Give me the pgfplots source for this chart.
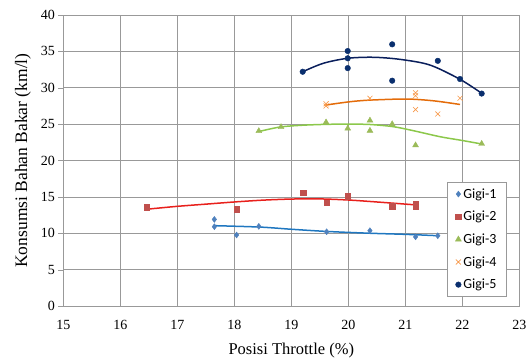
\documentclass[border=0pt]{standalone}
\usepackage{pgfplots}
\pgfplotsset{compat=1.18}
\usepackage{fontspec}
\setmainfont{Liberation Serif}
\newfontfamily\legfont{Carlito}
\definecolor{c1m}{HTML}{4F81BD}\definecolor{c1l}{HTML}{1F77C0}
\definecolor{c2m}{HTML}{C0504D}\definecolor{c2l}{HTML}{E8201C}
\definecolor{c3m}{HTML}{9BBB59}\definecolor{c3l}{HTML}{8CC84B}
\definecolor{c4m}{HTML}{F79646}\definecolor{c4l}{HTML}{E46C0A}
\definecolor{c5m}{HTML}{0A2F6E}\definecolor{c5l}{HTML}{0A1F5C}
\begin{document}
\begin{tikzpicture}
\useasboundingbox (-63.3pt,-53pt) rectangle (468.7pt,306pt);
\begin{axis}[
  scale only axis, width=456pt, height=291pt,
  xmin=15, xmax=23, ymin=0, ymax=40,
  xtick={15,...,23}, ytick={0,5,...,40},
  grid=major, major grid style={gray!80, line width=0.6pt},
  axis line style={gray!80}, tick style={gray!80},
  tick pos=left, tick align=outside, major tick length=5pt,
  xtick style={draw=none},
  tick label style={font=\fontsize{14}{15}\selectfont},
  xticklabel style={yshift=-6pt},
  /pgf/number format/assume math mode=true,
  xlabel={Posisi Throttle (\%)}, ylabel={Konsumsi Bahan Bakar (km/l)},
  xlabel style={font=\fontsize{16.5}{18}\selectfont, yshift=-6pt},
  ylabel style={font=\fontsize{17.5}{19}\selectfont, yshift=3pt},
  legend style={at={(0.842,0.425)}, anchor=north west, draw=gray!80, fill=white,
    font=\legfont\fontsize{14}{15}\selectfont, row sep=7.5pt,
    inner xsep=8pt, inner ysep=4pt},
  legend cell align=left,
]
% trend lines
\addplot[c1l, line width=1.5pt, smooth, forget plot] coordinates {
(17.66,11.04)(18.45,10.85)(19.0,10.55)(19.62,10.25)(20.38,10.0)(21.0,9.85)(21.55,9.67)};
\addplot[c2l, line width=1.5pt, smooth, forget plot] coordinates {
(16.46,13.3)(17.0,13.7)(17.5,14.0)(18.0,14.3)(18.5,14.55)(19.0,14.7)(19.5,14.72)(20.0,14.57)(20.5,14.3)(21.18,13.9)};
\addplot[c3l, line width=1.5pt, smooth, forget plot] coordinates {
(18.42,23.96)(18.8,24.6)(19.2,24.85)(19.62,24.97)(20.0,25.0)(20.38,24.95)(20.79,24.65)(21.14,24.1)(21.61,23.27)(22.0,22.75)(22.34,22.27)};
\addplot[c4l, line width=1.5pt, smooth, forget plot] coordinates {
(19.61,27.63)(20.03,28.08)(20.38,28.3)(21.02,28.45)(21.5,28.2)(21.96,27.7)};
\addplot[c5l, line width=1.5pt, smooth, forget plot] coordinates {
(19.2,32.2)(19.56,33.36)(19.99,34.05)(20.44,34.19)(20.91,33.9)(21.43,33.13)(21.96,31.16)(22.34,29.24)};
% data
\addplot[only marks, mark=diamond*, mark size=3pt, color=c1m] coordinates {
(17.65,11.9)(17.65,10.9)(18.04,9.76)(18.43,10.95)(19.62,10.2)(20.38,10.35)(21.18,9.5)(21.57,9.66)};
\addlegendentry{Gigi-1}
\addplot[only marks, mark=square*, mark size=2.8pt, color=c2m] coordinates {
(16.46,13.6)(18.04,13.3)(19.21,15.6)(19.62,14.2)(19.99,15.1)(20.77,13.75)(21.18,13.98)(21.18,13.7)};
\addlegendentry{Gigi-2}
\addplot[only marks, mark=triangle*, mark size=3.4pt, color=c3m] coordinates {
(18.43,24.05)(18.82,24.6)(19.61,25.25)(19.99,24.4)(20.38,25.5)(20.38,24.1)(20.77,25.0)(21.18,22.1)(22.34,22.3)};
\addlegendentry{Gigi-3}
\addplot[only marks, mark=x, mark size=3.5pt, color=c4m, line width=0.6pt] coordinates {
(19.61,27.5)(19.61,27.8)(20.38,28.55)(21.18,29.3)(21.18,28.9)(21.18,27.0)(21.57,26.4)(21.96,28.55)};
\addlegendentry{Gigi-4}
\addplot[only marks, mark=*, mark size=2.8pt, color=c5m] coordinates {
(19.2,32.2)(19.99,35.05)(19.99,34.05)(19.99,32.7)(20.77,35.97)(20.77,30.97)(21.57,33.7)(21.96,31.2)(22.34,29.2)};
\addlegendentry{Gigi-5}
\end{axis}
\end{tikzpicture}
\end{document}
